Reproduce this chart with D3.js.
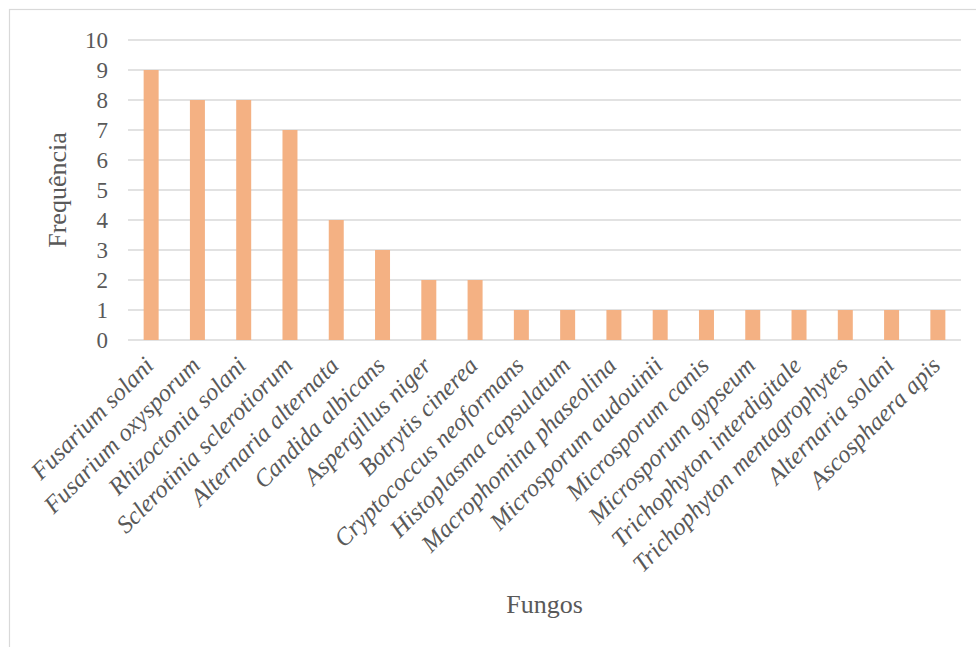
<!DOCTYPE html>
<html>
<head>
<meta charset="utf-8">
<script src="https://cdn.jsdelivr.net/npm/d3@7"></script>
<style>
  body { margin: 0; background: #fff; }
  svg text { font-family: "Liberation Serif", "Times New Roman", serif; fill: #595959; }
</style>
</head>
<body>
<script>
var fungos = ["Fusarium solani", "Fusarium oxysporum", "Rhizoctonia solani",
  "Sclerotinia sclerotiorum", "Alternaria alternata", "Candida albicans",
  "Aspergillus niger", "Botrytis cinerea", "Cryptococcus neoformans",
  "Histoplasma capsulatum", "Macrophomina phaseolina", "Microsporum audouinii",
  "Microsporum canis", "Microsporum gypseum", "Trichophyton interdigitale",
  "Trichophyton mentagrophytes", "Alternaria solani", "Ascosphaera apis"];
var frequencia = [9, 8, 8, 7, 4, 3, 2, 2, 1, 1, 1, 1, 1, 1, 1, 1, 1, 1];
var yTicks = [0, 1, 2, 3, 4, 5, 6, 7, 8, 9, 10];

var width = 976, height = 647;
var margin = {top: 40, right: 15, bottom: 307, left: 128};
var serif = "'Liberation Serif', 'Times New Roman', serif";

var svg = d3.select("body")
    .append("svg")
    .attr("width", width)
    .attr("height", height);

// chart area border
svg.append("rect")
    .attr("x", 9.5)
    .attr("y", 9.5)
    .attr("width", width + 20)
    .attr("height", height + 20)
    .attr("fill", "white")
    .attr("stroke", "#d9d9d9")
    .attr("stroke-width", 1.2);

var x = d3.scaleBand()
    .domain(fungos)
    .range([margin.left, width - margin.right])
    .paddingInner(0.676)
    .paddingOuter(0.338);

var y = d3.scaleLinear()
    .domain([0, 10])
    .range([height - margin.bottom, margin.top]);

// gridlines
svg.append("g")
    .selectAll("line")
    .data(yTicks)
    .join("line")
    .attr("x1", margin.left)
    .attr("x2", width - margin.right)
    .attr("y1", d => y(d))
    .attr("y2", d => y(d))
    .attr("stroke", "#d9d9d9")
    .attr("stroke-width", 1.3);

// y axis labels
var yAxis = svg.append("g")
    .attr("transform", "translate(" + (margin.left - 20) + ",0)")
    .call(d3.axisLeft(y).tickValues(yTicks).tickSize(0).tickPadding(0));
yAxis.attr("font-family", serif);
yAxis.select(".domain").remove();
yAxis.selectAll("text")
    .attr("font-size", 23)
    .attr("fill", "#595959");

// bars
svg.append("g")
    .selectAll("rect")
    .data(fungos)
    .join("rect")
    .attr("x", d => x(d))
    .attr("y", (d, i) => y(frequencia[i]))
    .attr("width", x.bandwidth())
    .attr("height", (d, i) => y(0) - y(frequencia[i]))
    .attr("fill", "#f4b183");

// category labels
var xAxis = svg.append("g")
    .attr("transform", "translate(0," + y(0) + ")")
    .call(d3.axisBottom(x).tickSize(0).tickPadding(0));
xAxis.attr("font-family", serif);
xAxis.select(".domain").remove();
xAxis.selectAll("text")
    .attr("font-size", 24.5)
    .attr("font-style", "italic")
    .attr("fill", "#595959")
    .attr("text-anchor", "end")
    .attr("dy", null)
    .attr("y", 0)
    .attr("transform", "translate(4,27) rotate(-45)");

// axis titles
svg.append("text")
    .attr("x", (margin.left + width - margin.right) / 2)
    .attr("y", 613)
    .attr("text-anchor", "middle")
    .attr("font-family", serif)
    .attr("font-size", 26)
    .text("Fungos");

svg.append("text")
    .attr("transform", "translate(66," + ((y(0) + y(10)) / 2) + ") rotate(-90)")
    .attr("text-anchor", "middle")
    .attr("font-family", serif)
    .attr("font-size", 26)
    .text("Frequência");
</script>
</body>
</html>
